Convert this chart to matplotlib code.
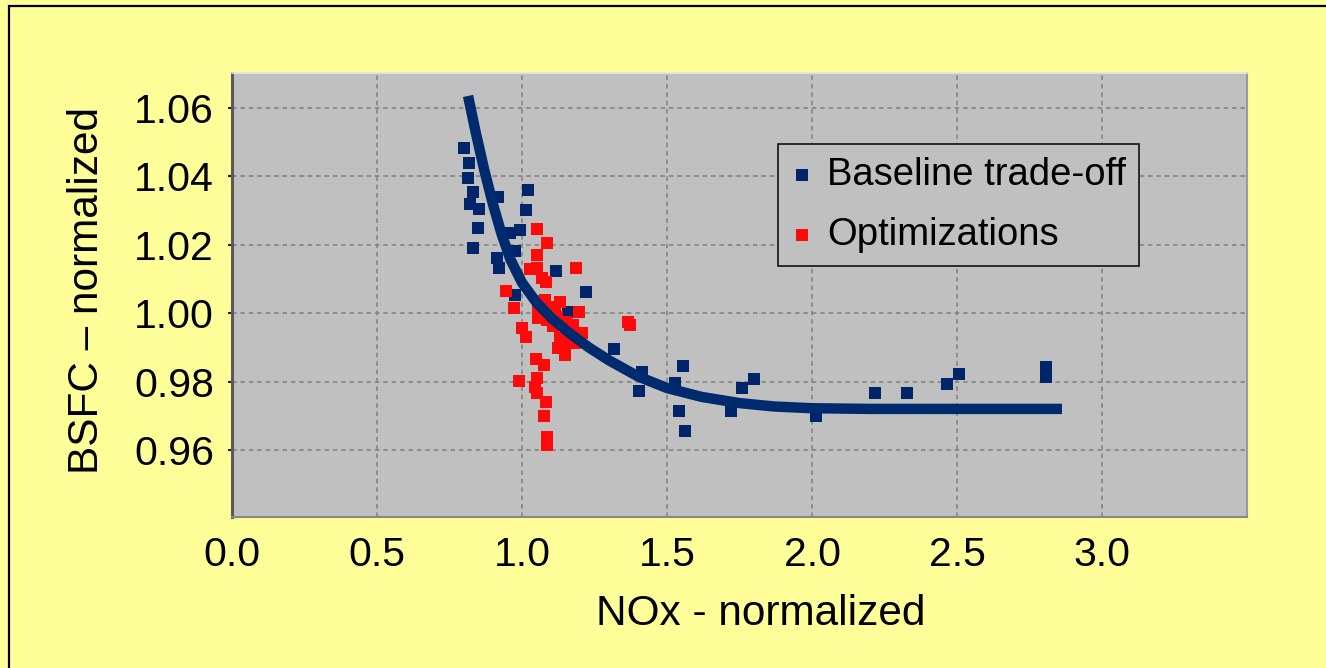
import matplotlib
matplotlib.use("Agg")
import matplotlib.pyplot as plt
from matplotlib.patches import Rectangle

# baseline trade-off points (NOx, BSFC), both normalized
base_nox = [0.800, 0.818, 0.815, 0.832, 0.821, 0.852, 0.849, 0.832, 0.918, 1.020,
            1.014, 0.959, 0.993, 0.976, 0.913, 0.922, 1.117, 1.221, 0.976, 1.159,
            1.318, 1.414, 1.404, 1.556, 1.528, 1.543, 1.562, 1.720, 1.757, 1.799,
            2.015, 2.217, 2.326, 2.465, 2.508, 2.806, 2.806]
base_bsfc = [1.0482, 1.0440, 1.0394, 1.0355, 1.0319, 1.0304, 1.0248, 1.0190, 1.0339, 1.0360,
             1.0302, 1.0234, 1.0243, 1.0183, 1.0161, 1.0131, 1.0123, 1.0061, 1.0053, 1.0004,
             0.9896, 0.9829, 0.9773, 0.9844, 0.9797, 0.9715, 0.9656, 0.9714, 0.9782, 0.9808,
             0.9699, 0.9766, 0.9766, 0.9792, 0.9822, 0.9842, 0.9814]

# optimization runs
opt_nox = [1.051, 1.087, 1.051, 1.028, 1.053, 1.068, 1.083, 1.186, 0.945, 0.972,
           1.068, 1.097, 1.114, 1.056, 1.085, 1.120, 1.198, 1.108, 1.177, 1.206,
           0.999, 1.014, 1.131, 1.160, 1.125, 1.148, 1.048, 1.076, 0.991, 1.051,
           1.045, 1.051, 1.083, 1.076, 1.087, 1.085, 1.367, 1.372, 1.131, 1.152,
           1.103, 1.183, 1.079, 1.055]
opt_bsfc = [1.0246, 1.0204, 1.0170, 1.0129, 1.0131, 1.0102, 1.0092, 1.0133, 1.0066, 1.0014,
            1.0034, 1.0019, 1.0009, 0.9985, 0.9980, 0.9990, 1.0004, 0.9961, 0.9966, 0.9941,
            0.9956, 0.9931, 0.9927, 0.9912, 0.9897, 0.9878, 0.9865, 0.9849, 0.9802, 0.9810,
            0.9785, 0.9766, 0.9741, 0.9699, 0.9639, 0.9615, 0.9975, 0.9966, 1.0033, 0.9974,
            0.9986, 0.9913, 1.0039, 1.0009]

# trade-off curve
curve_nox = [0.814, 0.840, 0.870, 0.900, 0.930, 0.960, 1.000, 1.050, 1.100, 1.160,
             1.230, 1.300, 1.400, 1.500, 1.620, 1.750, 1.870, 2.000, 2.200, 2.500,
             2.862]
curve_bsfc = [1.0635, 1.0530, 1.0418, 1.0318, 1.0230, 1.0157, 1.0089, 1.0031, 0.9987, 0.9944,
              0.9900, 0.9862, 0.9815, 0.9781, 0.9755, 0.9737, 0.9727, 0.9722, 0.9720, 0.9720,
              0.9720]

x_ticks = [0.0, 0.5, 1.0, 1.5, 2.0, 2.5, 3.0]
y_ticks = [0.96, 0.98, 1.00, 1.02, 1.04, 1.06]

plt.rcParams['font.family'] = ['Liberation Sans', 'DejaVu Sans']

navy = '#00256b'
red = '#ff0a0a'

fig = plt.figure(figsize=(13.26, 6.68), dpi=100, facecolor='#ffff99')
ax = fig.add_axes([232 / 1326, 1 - 517 / 668, 1015 / 1326, 444 / 668])
ax.set_facecolor('#c0c0c0')

ax.scatter(base_nox, base_bsfc, marker='s', s=70, color=navy, linewidths=0,
           label='Baseline trade-off', zorder=3)
ax.scatter(opt_nox, opt_bsfc, marker='s', s=70, color=red, linewidths=0,
           label='Optimizations', zorder=3)
ax.plot(curve_nox, curve_bsfc, color='#002a6e', lw=7.5, solid_capstyle='butt',
        solid_joinstyle='round', zorder=4)

ax.set_xlim(0, 3.5)
ax.set_ylim(0.9404, 1.0702)
ax.set_xticks(x_ticks)
ax.set_xticklabels([f'{v:.1f}' for v in x_ticks])
ax.set_yticks(y_ticks)
ax.set_yticklabels([f'{v:.2f}' for v in y_ticks])
ax.tick_params(axis='x', length=0, pad=14, labelsize=29.5)
ax.tick_params(axis='y', length=3, width=1.5, color='#222222', pad=10, labelsize=29.5)

ax.grid(True, color='#808080', linestyle=(0, (3, 2.5)), linewidth=1.1, zorder=1)
ax.set_axisbelow(True)

ax.spines['left'].set_color('#5a5a5a')
ax.spines['left'].set_linewidth(2.2)
ax.spines['bottom'].set_color('#888888')
ax.spines['bottom'].set_linewidth(1.5)
ax.spines['top'].set_color('#e6e6e6')
ax.spines['top'].set_linewidth(1.2)
ax.spines['right'].set_color('#9a9a9a')
ax.spines['right'].set_linewidth(1.5)

ax.set_xlabel('NOx - normalized', fontsize=30.5)
ax.xaxis.set_label_coords(0.521, -0.174)
ax.set_ylabel('BSFC \u2013 normalized', fontsize=30.5)
ax.yaxis.set_label_coords(-0.123, 0.51)

leg = ax.legend(loc='upper left', bbox_to_anchor=(0.538, 0.840), borderaxespad=0,
                fontsize=27.5, frameon=True, fancybox=False, shadow=False,
                handlelength=0.6, handletextpad=0.35, borderpad=0.33,
                labelspacing=0.65, markerscale=1.1)
leg.get_frame().set_facecolor('#c0c0c0')
leg.get_frame().set_edgecolor('#111111')
leg.get_frame().set_linewidth(1.2)
leg.get_frame().set_alpha(1)

# outer frame of the chart area
fig.patches.append(Rectangle((9 / 1326, -0.05), 1.2, 1 + 0.05 - 6 / 668,
                             transform=fig.transFigure, fill=False,
                             edgecolor='black', linewidth=1.6))

fig.savefig('out.png', dpi=100, facecolor=fig.get_facecolor())
